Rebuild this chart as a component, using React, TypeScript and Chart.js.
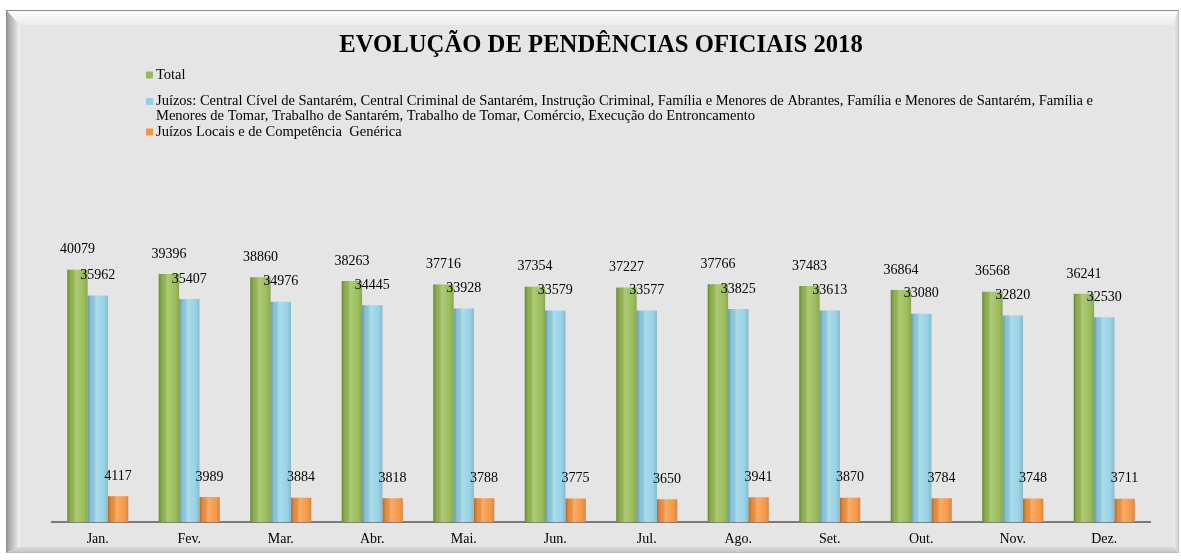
import React, { useEffect, useRef } from 'react';
import { Chart, registerables } from 'chart.js';

Chart.register(...registerables);

const months = ['Jan.', 'Fev.', 'Mar.', 'Abr.', 'Mai.', 'Jun.', 'Jul.', 'Ago.', 'Set.', 'Out.', 'Nov.', 'Dez.'];
const totalValues = [40079, 39396, 38860, 38263, 37716, 37354, 37227, 37766, 37483, 36864, 36568, 36241];
const juizosValues = [35962, 35407, 34976, 34445, 33928, 33579, 33577, 33825, 33613, 33080, 32820, 32530];
const locaisValues = [4117, 3989, 3884, 3818, 3788, 3775, 3650, 3941, 3870, 3784, 3748, 3711];

const seriesNames = [
  'Total',
  'Juízos: Central Cível de Santarém, Central Criminal de Santarém, Instrução Criminal, Família e Menores de Abrantes, Família e Menores de Santarém, Família e Menores de Tomar, Trabalho de Santarém, Trabalho de Tomar, Comércio, Execução do Entroncamento',
  'Juízos Locais e de Competência  Genérica',
];
const legendLines = [
  ['Total'],
  [
    'Juízos: Central Cível de Santarém, Central Criminal de Santarém, Instrução Criminal, Família e Menores de Abrantes, Família e Menores de Santarém, Família e',
    'Menores de Tomar, Trabalho de Santarém, Trabalho de Tomar, Comércio, Execução do Entroncamento',
  ],
  ['Juízos Locais e de Competência  Genérica'],
];
const seriesColors = ['#98bc53', '#93d2e6', '#f7953f'];
const titleText = 'EVOLUÇÃO DE PENDÊNCIAS OFICIAIS 2018';
const yMax = 45000;

const FONT = "'Liberation Serif', 'Times New Roman', serif";

const shadePlugin = {
  id: 'shadeBars',
  afterDatasetDraw(chart: any, args: any) {
    const ctx = chart.ctx;
    const meta = args.meta;
    ctx.save();
    meta.data.forEach((el: any) => {
      const { x, y, base, width } = el.getProps(['x', 'y', 'base', 'width'], true);
      const left = x - width / 2;
      const g = ctx.createLinearGradient(left, 0, left + width, 0);
      g.addColorStop(0, 'rgba(0,0,0,0.28)');
      g.addColorStop(0.18, 'rgba(0,0,0,0.06)');
      g.addColorStop(0.42, 'rgba(255,255,255,0.22)');
      g.addColorStop(0.75, 'rgba(255,255,255,0.06)');
      g.addColorStop(1, 'rgba(0,0,0,0.12)');
      ctx.fillStyle = g;
      ctx.fillRect(left, y, width, base - y);
    });
    ctx.restore();
  },
};

const labelPlugin = {
  id: 'valueLabels',
  afterDatasetsDraw(chart: any) {
    const ctx = chart.ctx;
    ctx.save();
    ctx.font = `14px ${FONT}`;
    ctx.fillStyle = '#000';
    ctx.textAlign = 'center';
    ctx.textBaseline = 'middle';
    chart.data.datasets.forEach((ds: any, i: number) => {
      const meta = chart.getDatasetMeta(i);
      meta.data.forEach((el: any, j: number) => {
        ctx.fillText(String(ds.data[j]), el.x, el.y - 20);
      });
    });
    ctx.restore();
  },
};

const legendPlugin = {
  id: 'wrappedLegend',
  afterDraw(chart: any) {
    const ctx = chart.ctx;
    const rowY = [[75], [101.5, 116.5], [132]];
    ctx.save();
    ctx.font = `14.5px ${FONT}`;
    ctx.fillStyle = '#000';
    ctx.textAlign = 'left';
    ctx.textBaseline = 'middle';
    legendLines.forEach((lines, i) => {
      ctx.fillStyle = seriesColors[i];
      ctx.fillRect(146, rowY[i][0] - 3.5, 7, 7);
      ctx.fillStyle = '#000';
      lines.forEach((t, k) => ctx.fillText(t, 156, rowY[i][k]));
    });
    ctx.restore();
  },
};

export default function App() {
  const ref = useRef<HTMLCanvasElement>(null);
  useEffect(() => {
    if (!ref.current) return;
    const chart = new Chart(ref.current, {
      type: 'bar',
      data: {
        labels: months,
        datasets: [
          { label: seriesNames[0], data: totalValues, backgroundColor: seriesColors[0] },
          { label: seriesNames[1], data: juizosValues, backgroundColor: seriesColors[1] },
          { label: seriesNames[2], data: locaisValues, backgroundColor: seriesColors[2] },
        ],
      },
      options: {
        responsive: false,
        animation: false,
        devicePixelRatio: 1,
        datasets: { bar: { categoryPercentage: 0.667, barPercentage: 1.0 } },
        layout: { padding: { left: 52, right: 31, top: 10, bottom: 3 } },
        plugins: {
          legend: { display: false },
          tooltip: { enabled: false },
          title: {
            display: true,
            text: titleText,
            color: '#000',
            font: { family: FONT, size: 24.7, weight: 'bold' },
            padding: { top: 21, bottom: 178 },
          },
        },
        scales: {
          x: {
            grid: { display: false, drawTicks: false },
            border: { display: true, color: '#7a7a7a', width: 2 },
            ticks: { color: '#000', font: { family: FONT, size: 14 }, padding: 9 },
          },
          y: { display: false, min: 0, max: yMax },
        },
      },
      plugins: [shadePlugin, labelPlugin, legendPlugin],
    } as any);
    return () => chart.destroy();
  }, []);

  const band = (style: React.CSSProperties): React.CSSProperties => ({ position: 'absolute', ...style });

  return (
    <div>
      <div
        style={{
          position: 'absolute',
          left: 6,
          top: 10,
          width: 1173,
          height: 543,
          boxSizing: 'border-box',
          background: '#e5e5e5',
          borderTop: '1px solid #8a8a8a',
          borderLeft: '1px solid #8a8a8a',
          borderRight: '1px solid #c4c4c4',
          borderBottom: '1px solid #bcbcbc',
          overflow: 'hidden',
        }}
      >
        <div style={band({ left: 0, top: 0, right: 0, height: 14, background: 'linear-gradient(to bottom, #fbfbfb, #ededed)', clipPath: 'polygon(0 0, 100% 0, calc(100% - 5px) 100%, 13px 100%)' })} />
        <div style={band({ left: 0, top: 0, bottom: 0, width: 13, background: 'linear-gradient(to right, #9c9c9c, #f3f3f3)', clipPath: 'polygon(0 0, 100% 14px, 100% calc(100% - 5px), 0 100%)' })} />
        <div style={band({ right: 0, top: 0, bottom: 0, width: 5, background: 'linear-gradient(to right, #eeeeee, #d2d2d2)', clipPath: 'polygon(0 14px, 100% 0, 100% 100%, 0 calc(100% - 5px))' })} />
        <div style={band({ left: 0, right: 0, bottom: 0, height: 5, background: 'linear-gradient(to bottom, #dadada, #c6c6c6)', clipPath: 'polygon(13px 0, calc(100% - 5px) 0, 100% 100%, 0 100%)' })} />
      </div>
      <canvas
        ref={ref}
        width={1181}
        height={560}
        style={{ position: 'absolute', left: 0, top: 0, width: 1181, height: 560 }}
      />
    </div>
  );
}
